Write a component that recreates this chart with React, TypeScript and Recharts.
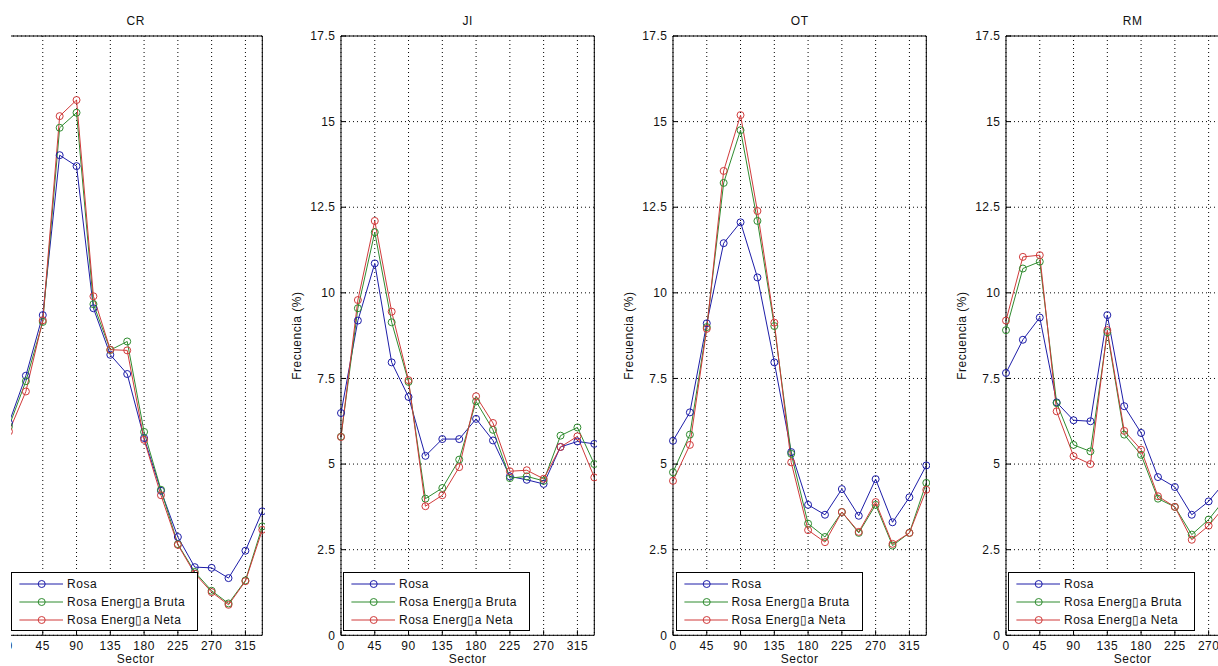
import { LineChart, Line, XAxis, YAxis, CartesianGrid, Legend } from "recharts";

// sector angles (deg) and axis ticks
const sectors = [0, 22.5, 45, 67.5, 90, 112.5, 135, 157.5, 180, 202.5, 225, 247.5, 270, 292.5, 315, 337.5];
const xTicks = [0, 45, 90, 135, 180, 225, 270, 315];
const yTicks = [0, 2.5, 5, 7.5, 10, 12.5, 15, 17.5];
const seriesNames = ["Rosa", "Rosa Energ\u25AFa Bruta", "Rosa Energ\u25AFa Neta"];
const seriesColors = ["#1c1ca8", "#2e8b2e", "#d03a3a"];

// CR
const crRosa = [6.2, 7.58, 9.35, 14.02, 13.7, 9.55, 8.19, 7.63, 5.76, 4.22, 2.87, 1.99, 1.97, 1.67, 2.47, 3.62];
const crBruta = [6.1, 7.42, 9.15, 14.82, 15.26, 9.67, 8.33, 8.58, 5.94, 4.25, 2.66, 1.85, 1.3, 0.93, 1.6, 3.18];
const crNeta = [5.95, 7.12, 9.2, 15.16, 15.63, 9.9, 8.34, 8.32, 5.71, 4.09, 2.64, 1.8, 1.26, 0.89, 1.58, 3.08];

// JI
const jiRosa = [6.49, 9.19, 10.86, 7.97, 6.96, 5.24, 5.73, 5.73, 6.32, 5.69, 4.64, 4.54, 4.42, 5.5, 5.66, 5.59];
const jiBruta = [5.8, 9.55, 11.77, 9.14, 7.4, 3.99, 4.3, 5.13, 6.83, 6.0, 4.59, 4.64, 4.51, 5.83, 6.07, 5.0];
const jiNeta = [5.79, 9.79, 12.1, 9.45, 7.45, 3.77, 4.09, 4.91, 6.98, 6.2, 4.79, 4.82, 4.57, 5.5, 5.81, 4.61];

// OT
const otRosa = [5.68, 6.51, 9.11, 11.45, 12.06, 10.45, 7.97, 5.35, 3.81, 3.52, 4.27, 3.49, 4.56, 3.3, 4.03, 4.96];
const otBruta = [4.76, 5.86, 9.0, 13.21, 14.75, 12.1, 9.03, 5.3, 3.26, 2.87, 3.6, 2.99, 3.81, 2.62, 2.99, 4.45];
const otNeta = [4.51, 5.56, 8.95, 13.56, 15.19, 12.39, 9.13, 5.05, 3.07, 2.72, 3.6, 3.02, 3.89, 2.67, 2.99, 4.25];

// RM
const rmRosa = [7.66, 8.63, 9.28, 6.8, 6.28, 6.25, 9.35, 6.69, 5.91, 4.62, 4.33, 3.52, 3.91, 4.5, 5.0, 5.3];
const rmBruta = [8.91, 10.71, 10.91, 6.78, 5.56, 5.37, 8.85, 5.86, 5.27, 3.99, 3.75, 2.94, 3.38, 4.0, 4.5, 4.7];
const rmNeta = [9.19, 11.05, 11.1, 6.54, 5.23, 5.0, 8.91, 5.97, 5.42, 4.06, 3.75, 2.79, 3.2, 3.8, 4.3, 4.6];

const FONT = '"Liberation Sans", Arial, sans-serif';
const Y_AXIS_W = 88;
const PLOT_W = 253.3;
const CHART_H = 680;
const CHART_W = Y_AXIS_W + PLOT_W + 1 + 2;
const textStyle = { fill: "#111", fontSize: 12, fontFamily: FONT, letterSpacing: 0.5 };

function BoxLegend(props: any) {
  const payload = props.payload || [];
  return (
    <div
      style={{
        width: 187,
        height: 59,
        boxSizing: "border-box",
        border: "1px solid #000",
        background: "#fff",
        position: "relative",
        fontFamily: FONT,
        fontSize: 12,
        letterSpacing: 0.5,
        color: "#111",
      }}
    >
      {payload.map((entry: any, i: number) => (
        <div
          key={entry.value}
          style={{ position: "absolute", left: 0, top: 1.7 + i * 18.3, height: 18, display: "flex", alignItems: "center", whiteSpace: "nowrap" }}
        >
          <svg width={54} height={18} style={{ display: "block" }}>
            <line x1={7.4} x2={51} y1={9} y2={9} stroke={entry.color} strokeWidth={1} />
            <circle cx={29.7} cy={9} r={3.5} fill="none" stroke={entry.color} strokeWidth={1} />
          </svg>
          <span style={{ marginLeft: 0.7, lineHeight: "18px" }}>{entry.value}</span>
        </div>
      ))}
    </div>
  );
}

interface PanelProps {
  title: string;
  rosa: number[];
  bruta: number[];
  neta: number[];
  plotLeft: number;
  hideYText?: boolean;
}

function Panel({ title, rosa, bruta, neta, plotLeft, hideYText }: PanelProps) {
  const rows = sectors.map((sector, i) => ({ sector, rosa: rosa[i], bruta: bruta[i], neta: neta[i] }));
  const keys = ["rosa", "bruta", "neta"];
  return (
    <div style={{ position: "absolute", left: plotLeft - Y_AXIS_W, top: 0 }}>
      <LineChart
        width={CHART_W}
        height={CHART_H}
        data={rows}
        margin={{ top: 35, right: 2, bottom: 4.7, left: 0 }}
      >
        <CartesianGrid stroke="#000" strokeDasharray="1 3" />
        <XAxis
          dataKey="sector"
          type="number"
          domain={[0, 337.5]}
          ticks={xTicks}
          height={40}
          stroke="#000"
          tickSize={-5}
          tickMargin={11.5}
          tick={textStyle}
          label={{ value: "Sector", position: "insideBottom", offset: 12.2, ...textStyle }}
        />
        <XAxis
          xAxisId="top"
          orientation="top"
          type="number"
          domain={[0, 337.5]}
          ticks={xTicks}
          height={1}
          stroke="#000"
          tickSize={-5}
          tick={false}
          label={{ value: title, position: "top", offset: 9.7, ...textStyle }}
        />
        <YAxis
          type="number"
          domain={[0, 17.5]}
          ticks={yTicks}
          width={Y_AXIS_W}
          stroke="#000"
          tickSize={-5}
          tickMargin={10.5}
          tick={hideYText ? false : textStyle}
          label={hideYText ? undefined : { value: "Frecuencia (%)", angle: -90, position: "center", ...textStyle }}
        />
        <YAxis
          yAxisId="right"
          orientation="right"
          type="number"
          domain={[0, 17.5]}
          ticks={yTicks}
          width={1}
          stroke="#000"
          tickSize={-5}
          tick={false}
        />
        <Legend
          layout="horizontal"
          verticalAlign="middle"
          align="center"
          content={BoxLegend}
          wrapperStyle={{ left: Y_AXIS_W + 2.6, top: 572, width: 187, height: 59 }}
        />
        {keys.map((k, i) => (
          <Line
            key={k}
            type="linear"
            dataKey={k}
            name={seriesNames[i]}
            stroke={seriesColors[i]}
            strokeWidth={1}
            dot={{ r: 3.5, fill: "none", stroke: seriesColors[i], strokeWidth: 1 }}
            activeDot={false}
            isAnimationActive={false}
          />
        ))}
      </LineChart>
    </div>
  );
}

export default function App() {
  return (
    <div
      style={{
        position: "fixed",
        left: 0,
        top: 0,
        width: 1218,
        height: 666,
        overflow: "hidden",
        background: "#fff",
        fontFamily: FONT,
      }}
    >
      <Panel title="CR" rosa={crRosa} bruta={crBruta} neta={crNeta} plotLeft={8.8} hideYText />
      <Panel title="JI" rosa={jiRosa} bruta={jiBruta} neta={jiNeta} plotLeft={340.7} />
      <Panel title="OT" rosa={otRosa} bruta={otBruta} neta={otNeta} plotLeft={673.3} />
      <Panel title="RM" rosa={rmRosa} bruta={rmBruta} neta={rmNeta} plotLeft={1005.7} />
      {/* the source image is cropped on its left edge */}
      <div style={{ position: "absolute", left: 0, top: 0, width: 11, height: 666, background: "#fff" }} />
    </div>
  );
}
